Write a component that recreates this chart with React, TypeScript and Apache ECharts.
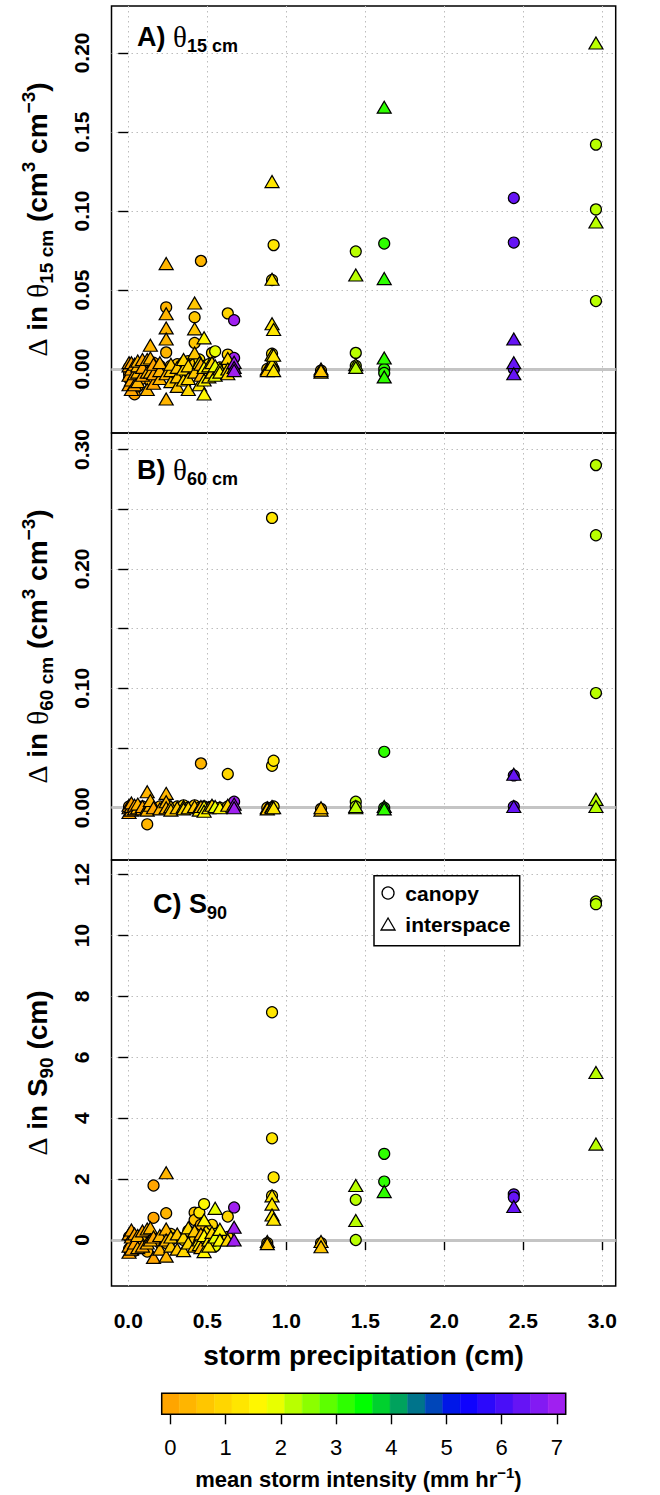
import React, { useEffect, useRef } from 'react';
import * as echarts from 'echarts';

// storms: precipitation (cm) and mean intensity (mm/hr)
const stormPrecip = [0.005, 0.02, 0.04, 0.06, 0.09, 0.12, 0.14, 0.16, 0.2, 0.24, 0.27, 0.31, 0.35, 0.38, 0.42, 0.45, 0.46, 0.48, 0.51, 0.53, 0.55, 0.58, 0.63, 0.67, 0.88, 0.91, 0.92, 1.22, 1.44, 1.62, 2.44, 2.96];
const stormIntensity = [0.05, 0.1, 0.1, 0.2, 0.1, 0.2, 0.3, 0.1, 0.4, 0.3, 0.7, 0.6, 1.0, 0.9, 0.6, 1.2, 0.4, 1.6, 1.3, 1.0, 1.9, 1.5, 0.9, 6.95, 0.7, 1.2, 1.4, 0.7, 2.2, 3.2, 6.35, 2.2];

// Panel A: change in theta 15 cm
const theta15Canopy: number[][] = [
  [-0.006, -0.003, 0.001], [-0.009, -0.002, 0.002], [-0.016, -0.005, 0.0], [-0.011, -0.002], [-0.006, 0.001],
  [-0.003, 0.002], [-0.008, 0.003], [0.0, 0.004], [-0.004, 0.002], [0.039, 0.0105, -0.002],
  [-0.003, 0.002], [0.0, 0.003], [-0.002, 0.004], [-0.001, 0.005], [0.0328, 0.0165, 0.007, 0.003],
  [0.002, 0.006], [0.0684, 0.001], [0.002], [0.003, -0.002], [0.0102, 0.001],
  [0.0112, -0.001], [0.001], [0.0352, 0.0091, 0.002], [0.0309, 0.007, -0.001], [0.0],
  [0.0563, 0.0097, 0.002], [0.0784, 0.0, -0.001], [-0.001], [0.0744, 0.0102, 0.002], [0.0794, 0.0, -0.0025],
  [0.1082, 0.08, 0.0], [0.142, 0.101, 0.043],
];
const theta15Interspace: number[][] = [
  [-0.01, -0.004, 0.002, 0.004], [-0.013, -0.007, 0.0, 0.004], [-0.01, -0.003, 0.003], [-0.008, -0.002, 0.002, 0.005], [-0.004, 0.001, 0.006],
  [-0.013, -0.002, 0.006], [-0.002, 0.007, 0.015], [-0.009, -0.003, 0.003], [-0.006, -0.001, 0.004], [0.0667, 0.035, 0.026, 0.019, -0.003, -0.019],
  [-0.008, -0.001, 0.003], [-0.011, -0.005, 0.001], [-0.007, 0.0, 0.006], [-0.013, -0.006, 0.002], [0.0418, 0.0254, 0.0102, -0.002],
  [-0.01, 0.004], [-0.004, 0.003], [0.0197, 0.001, -0.007, -0.0158], [-0.005, 0.002], [-0.002, 0.004],
  [-0.004, 0.002], [0.0, -0.002], [0.0067, 0.0, -0.003], [0.0042, 0.001, -0.001], [0.0, -0.001],
  [0.1186, 0.0568, 0.0286, 0.009, 0.003], [0.025, 0.0087, -0.001], [0.0, -0.002, -0.001], [0.0595, 0.0028, 0.001], [0.1657, 0.0572, 0.007, -0.005],
  [0.019, 0.004, -0.003], [0.2063, 0.093],
];

// Panel B: change in theta 60 cm
const theta60Canopy: number[][] = [
  [-0.001, 0.001], [0.0], [0.001], [0.0], [0.001],
  [-0.0139], [0.001], [0.0], [0.001], [0.002],
  [0.0], [0.001], [0.002], [0.0], [0.002],
  [0.0], [0.0371], [0.001], [0.0], [0.001],
  [0.0], [0.0], [0.0282, 0.001], [0.005], [0.0],
  [0.2427, 0.0351], [0.0393, 0.001], [-0.001], [0.005, 0.001], [0.0468, 0.0],
  [0.027, 0.001], [0.2869, 0.2282, 0.096],
];
const theta60Interspace: number[][] = [
  [-0.004, 0.0, 0.002], [-0.002, 0.001, 0.004], [-0.001, 0.002], [0.0, 0.003], [-0.001, 0.001],
  [0.0134, 0.0, -0.002], [0.002, 0.006], [0.0], [-0.001], [0.012, 0.005, 0.0],
  [0.001, -0.002], [0.0], [0.001, -0.001], [0.0], [0.001],
  [0.0, -0.002], [0.001], [0.001, -0.003], [0.0], [0.002],
  [0.001], [0.0], [0.002], [0.003, 0.0], [0.0, -0.001],
  [0.001, 0.0], [0.0], [-0.002, 0.0], [0.0, 0.001], [0.001, -0.001],
  [0.028, 0.001], [0.007, 0.001],
];

// Panel C: change in S90 (cm)
const s90Canopy: number[][] = [
  [-0.3, 0.1], [-0.2, 0.0], [-0.35, 0.05], [-0.1], [-0.05, 0.15],
  [-0.38, 0.05], [0.2], [1.79, 0.73, 0.0], [-0.1], [0.88, -0.1],
  [0.0, 0.2], [0.1], [0.0], [0.3], [0.9, 0.66, 0.0],
  [0.9, 0.2], [0.5], [1.18, -0.1], [0.3], [0.5, -0.1],
  [0.2, -0.2], [0.0], [0.77, 0.1], [1.07], [-0.1],
  [7.48, 3.34, 1.45], [2.06], [-0.1], [1.32, 0.0], [2.83, 1.92],
  [1.5, 1.4], [11.12, 11.03],
];
const s90Interspace: number[][] = [
  [-0.4, -0.2, 0.2], [-0.3, 0.1, 0.33], [-0.1, 0.2], [-0.25, 0.15], [-0.2, 0.3],
  [0.36, -0.1], [0.4, 0.0], [-0.57, 0.1], [0.15, -0.3], [2.21, 0.36, 0.0, -0.53],
  [-0.2, 0.1], [-0.3, 0.2], [-0.35, 0.1], [-0.1, 0.4], [0.3, -0.2],
  [0.0, -0.15], [0.2, -0.25], [0.66, 0.15, -0.38], [0.0, -0.2], [0.25],
  [1.04, 0.1], [0.35, 0.0], [0.0], [0.42, 0.0], [-0.05, -0.12],
  [1.45, 1.18, 0.82], [0.68], [-0.05, -0.22], [1.79, 0.64], [1.59],
  [1.1], [5.5, 3.15],
];

// axes
const xTicks = [0, 0.5, 1, 1.5, 2, 2.5, 3];
const yTicksA = [0, 0.05, 0.1, 0.15, 0.2];
const yTicksB = [0, 0.05, 0.1, 0.15, 0.2, 0.25, 0.3];
const yLabelsB = [0, 0.1, 0.2, 0.3];
const yTicksC = [0, 2, 4, 6, 8, 10, 12];
const colorbarTicks = [0, 1, 2, 3, 4, 5, 6, 7];
const rampStops = ['#FFA500', '#FFFF00', '#00FF00', '#0000FF', '#A020F0'];
const colorbarCount = 23;
const colorbarMin = 0;
const colorbarMax = 7;

function hexToRgb(h: string) {
  return [parseInt(h.slice(1, 3), 16), parseInt(h.slice(3, 5), 16), parseInt(h.slice(5, 7), 16)];
}
function ramp(n: number): string[] {
  const stops = rampStops.map(hexToRgb);
  const out: string[] = [];
  for (let i = 0; i < n; i++) {
    const t = (i / (n - 1)) * (stops.length - 1);
    const j = Math.min(Math.floor(t), stops.length - 2);
    const f = t - j;
    const c = stops[j].map((v, k) => Math.round(v + (stops[j + 1][k] - v) * f));
    out.push('#' + c.map((v) => v.toString(16).padStart(2, '0')).join(''));
  }
  return out;
}

function toPoints(values: number[][]) {
  const out: number[][] = [];
  values.forEach((vs, i) => vs.forEach((v) => out.push([stormPrecip[i], v, stormIntensity[i]])));
  return out;
}

const sans = 'Liberation Sans, Arial, Helvetica, sans-serif';
const serif = 'Liberation Serif, DejaVu Serif, serif';

export default function App() {
  const ref = useRef<HTMLDivElement>(null);
  useEffect(() => {
    document.body.style.margin = '0';
    if (!ref.current) return;
    const chart = echarts.init(ref.current, undefined, { renderer: 'svg' });

    const cbColors = ramp(colorbarCount);
    const cbStep = (colorbarMax - colorbarMin) / (colorbarCount - 1);
    const cbBins = cbColors.map((c, k) => [colorbarMin + (k - 0.5) * cbStep, colorbarMin + (k + 0.5) * cbStep, k]);

    const L = 111.5;
    const W = 615.7 - 111.5;
    const gridBase = { show: true, borderColor: '#000', borderWidth: 1.5, backgroundColor: 'transparent', outerBoundsMode: 'none' };
    const grids = [
      { ...gridBase, left: L, top: 6, width: W, height: 427 },
      { ...gridBase, left: L, top: 433, width: W, height: 427 },
      { ...gridBase, left: L, top: 860, width: W, height: 426 },
      { show: false, left: 161.7, top: 1393.3, width: 404, height: 21, outerBoundsMode: 'none' },
    ];

    const gridLineStyle = { color: '#bdbdbd', width: 1, type: [1.5, 3.5] as any };
    const tickStyle = { color: '#000', width: 1.4 };
    const tickLabelStyle = { color: '#000', fontFamily: sans, fontWeight: 'bold' as const, fontSize: 21 };

    const xAxisFor = (k: number) => ({
      type: 'value', gridIndex: k, min: -0.106, max: 3.085,
      axisLine: { show: false },
      axisTick: { show: k === 2, customValues: xTicks, length: 10, lineStyle: tickStyle },
      axisLabel: { show: k === 2, customValues: xTicks, margin: 24, formatter: (v: number) => v.toFixed(1), ...tickLabelStyle },
      splitLine: { show: true, lineStyle: gridLineStyle },
    });

    const yAxisFor = (k: number, min: number, max: number, ticks: number[], labels: number[], fmt: (v: number) => string) => ({
      type: 'value', gridIndex: k, min, max,
      axisLine: { show: false },
      axisTick: { show: true, customValues: ticks, length: 10, lineStyle: tickStyle },
      axisLabel: { show: true, customValues: labels, rotate: 90, margin: 20, formatter: fmt, ...tickLabelStyle },
      splitLine: { show: true, lineStyle: gridLineStyle },
    });

    const zeroLine = {
      silent: true, symbol: 'none', z: 1, label: { show: false },
      lineStyle: { color: '#c4c4c4', width: 3, type: 'solid' },
      data: [{ yAxis: 0 }],
      emphasis: { disabled: true },
    };

    const panels = [
      { c: theta15Canopy, i: theta15Interspace },
      { c: theta60Canopy, i: theta60Interspace },
      { c: s90Canopy, i: s90Interspace },
    ];
    const series: any[] = [];
    panels.forEach((p, k) => {
      series.push({
        type: 'scatter', name: 'canopy', xAxisIndex: k, yAxisIndex: k, data: toPoints(p.c),
        symbol: 'circle', symbolSize: 11, silent: true, z: 3,
        itemStyle: { borderColor: '#000', borderWidth: 1.2, opacity: 1 },
        markLine: zeroLine,
      });
      series.push({
        type: 'scatter', name: 'interspace', xAxisIndex: k, yAxisIndex: k, data: toPoints(p.i),
        symbol: 'triangle', symbolSize: [14, 12], silent: true, z: 3,
        itemStyle: { borderColor: '#000', borderWidth: 1.2, opacity: 1 },
      });
    });
    series.push({
      type: 'custom', xAxisIndex: 3, yAxisIndex: 3, data: cbBins, silent: true, clip: false,
      renderItem: (params: any, api: any) => {
        const a = api.coord([api.value(0), 1]);
        const b = api.coord([api.value(1), 0]);
        const col = cbColors[api.value(2)];
        return { type: 'rect', shape: { x: a[0], y: a[1], width: b[0] - a[0], height: b[1] - a[1] }, style: { fill: col, stroke: col, lineWidth: 0.5 } };
      },
    });

    const rich = {
      b: { fontFamily: sans, fontWeight: 'bold', fontSize: 28, color: '#000' },
      d: { fontFamily: serif, fontSize: 28, color: '#000' },
      t: { fontFamily: serif, fontSize: 30, color: '#000' },
      s: { fontFamily: sans, fontWeight: 'bold', fontSize: 19, color: '#000', padding: [18, 0, 0, 0] },
      p: { fontFamily: sans, fontWeight: 'bold', fontSize: 19, color: '#000', padding: [0, 0, 18, 0] },
      lb: { fontFamily: sans, fontWeight: 'bold', fontSize: 27, color: '#000' },
      lt: { fontFamily: serif, fontSize: 29, color: '#000' },
      ls: { fontFamily: sans, fontWeight: 'bold', fontSize: 18, color: '#000', padding: [18, 0, 0, 0] },
      cb: { fontFamily: sans, fontWeight: 'bold', fontSize: 22, color: '#000' },
      cp: { fontFamily: sans, fontWeight: 'bold', fontSize: 15, color: '#000', padding: [0, 0, 14, 0] },
    };
    const txt = (x: number, y: number, text: string, align: string, rotation = 0) => ({
      type: 'text', x, y, rotation, silent: true, z: 10,
      style: { text, rich, align, verticalAlign: 'middle', textAlign: align, textVerticalAlign: 'middle', fill: '#000' },
    });

    const graphic = [
      txt(137, 37, '{lb|A) }{lt|θ}{ls|15 cm}', 'left'),
      txt(137, 470, '{lb|B) }{lt|θ}{ls|60 cm}', 'left'),
      txt(153, 904, '{lb|C) S}{ls|90}', 'left'),
      txt(37, 219.5, '{d|Δ}{b| in }{t|θ}{s|15 cm}{b| (cm}{p|3}{b| cm}{p|−3}{b|)}', 'center', Math.PI / 2),
      txt(37, 646.5, '{d|Δ}{b| in }{t|θ}{s|60 cm}{b| (cm}{p|3}{b| cm}{p|−3}{b|)}', 'center', Math.PI / 2),
      txt(37, 1073, '{d|Δ}{b| in S}{s|90}{b| (cm)}', 'center', Math.PI / 2),
      txt(363.6, 1355, '{b|storm precipitation (cm)}', 'center'),
      txt(358.5, 1479, '{cb|mean storm intensity (mm hr}{cp|−1}{cb|)}', 'center'),
      {
        type: 'rect', silent: true, z: 10,
        shape: { x: 161.7, y: 1393.3, width: 404, height: 21 },
        style: { fill: 'none', stroke: '#000', lineWidth: 1.5 },
      },
    ];

    const option: any = {
      animation: false,
      textStyle: { fontFamily: sans },
      grid: grids,
      xAxis: [
        xAxisFor(0), xAxisFor(1), xAxisFor(2),
        {
          type: 'value', gridIndex: 3, min: colorbarMin - cbStep / 2, max: colorbarMax + cbStep / 2,
          axisLine: { show: false },
          axisTick: { show: true, customValues: colorbarTicks, length: 10, lineStyle: tickStyle },
          axisLabel: { show: true, customValues: colorbarTicks, margin: 22, color: '#000', fontFamily: sans, fontSize: 22 },
          splitLine: { show: false },
        },
      ],
      yAxis: [
        yAxisFor(0, -0.0405, 0.2297, yTicksA, yTicksA, (v) => v.toFixed(2)),
        yAxisFor(1, -0.0438, 0.3138, yTicksB, yLabelsB, (v) => v.toFixed(2)),
        yAxisFor(2, -1.51, 12.48, yTicksC, yTicksC, (v) => String(Math.round(v))),
        { type: 'value', gridIndex: 3, min: 0, max: 1, show: false },
      ],
      visualMap: {
        type: 'piecewise', show: false, dimension: 2, seriesIndex: [0, 1, 2, 3, 4, 5],
        pieces: cbBins.map((b) => ({ gte: b[0], lt: b[1], color: cbColors[b[2]] })),
      },
      legend: {
        show: true, orient: 'vertical', left: 374, top: 875.7,
        padding: [6.8, 9.3, 11.2, 6.4], itemGap: 10, itemWidth: 24.6, itemHeight: 12,
        borderColor: '#000', borderWidth: 1.5, backgroundColor: '#fff', selectedMode: false,
        symbolKeepAspect: true,
        textStyle: { color: '#000', fontFamily: sans, fontWeight: 'bold', fontSize: 21 },
        data: [
          { name: 'canopy', icon: 'circle', itemStyle: { color: '#fff', borderColor: '#000', borderWidth: 1.3 } },
          { name: 'interspace', icon: 'path://M7,0L14,12L0,12Z', itemStyle: { color: '#fff', borderColor: '#000', borderWidth: 1.3 } },
        ],
      },
      graphic,
      series,
    };
    chart.setOption(option);
    return () => chart.dispose();
  }, []);
  return <div ref={ref} style={{ width: 660, height: 1495 }} />;
}
